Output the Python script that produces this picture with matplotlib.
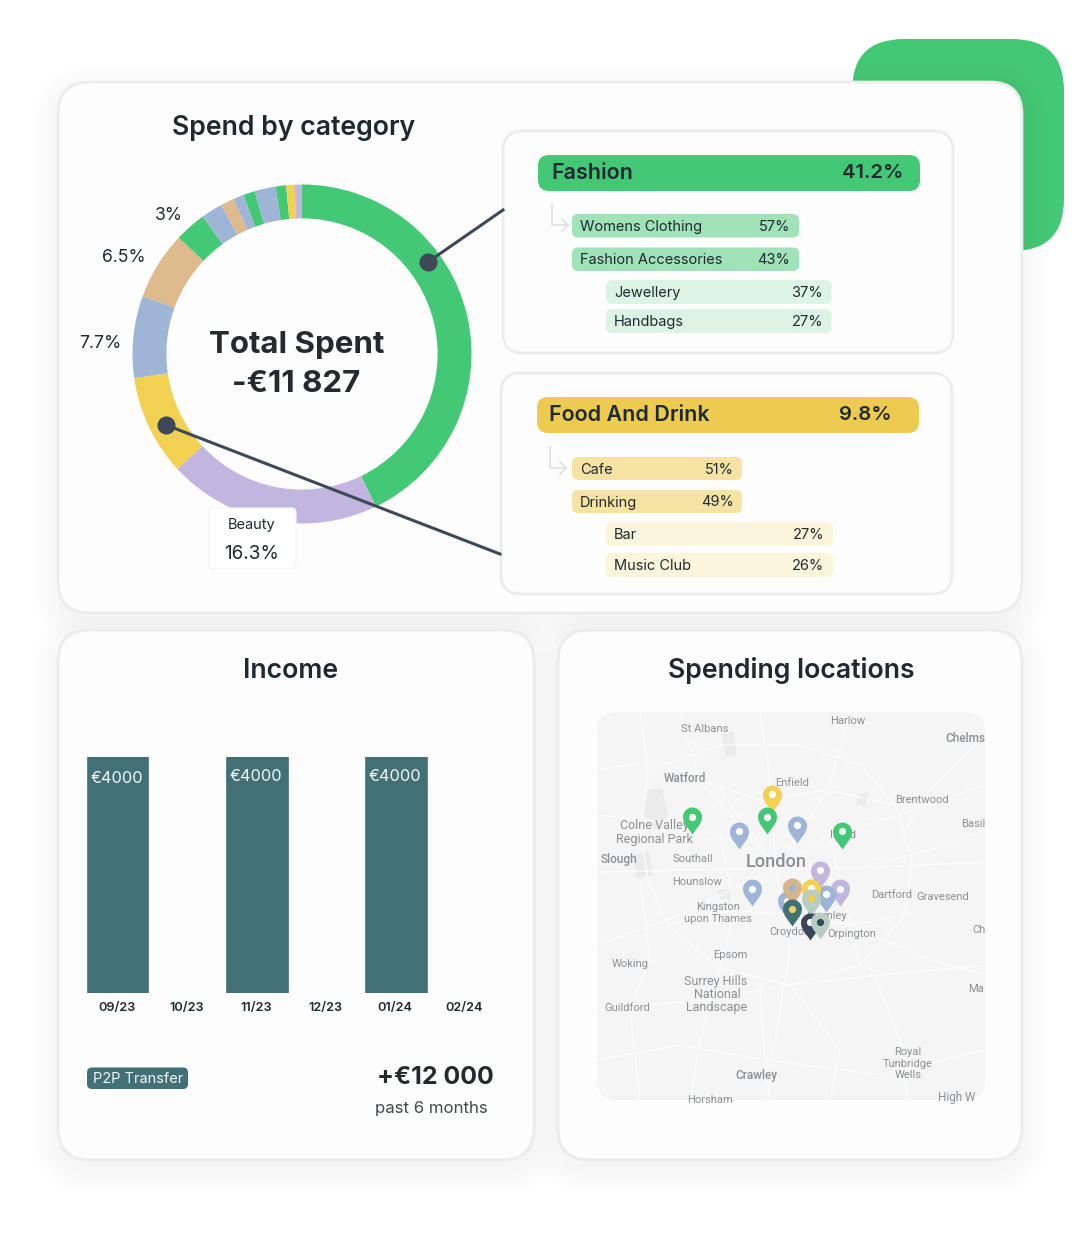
import matplotlib
matplotlib.use("Agg")
import matplotlib.pyplot as plt
from matplotlib.patches import FancyBboxPatch
from matplotlib.path import Path

# donut shares, read clockwise from 12 o'clock (as drawn)
donut_values = [42.8, 20.3, 9.6, 7.8, 6.5, 3.0, 2.05, 1.3, 1.0, 1.1, 2.0, 1.0, 0.8, 0.7]
donut_colors = ["#43c875", "#c2b5df", "#f2d052", "#9fb5d8", "#ddbb8c", "#43c875", "#9fb5d8",
                "#ddbb8c", "#9fb5d8", "#43c875", "#9fb5d8", "#43c875", "#f2d052", "#c2b5df"]

# income bars
months = ["09/23", "10/23", "11/23", "12/23", "01/24", "02/24"]
income = [4000, 0, 4000, 0, 4000, 0]

# breakdown rows: label, percent
fashion_rows = [("Womens Clothing", "57%"), ("Fashion Accessories", "43%"),
                ("Jewellery", "37%"), ("Handbags", "27%")]
food_rows = [("Cafe", "51%"), ("Drinking", "49%"), ("Bar", "27%"), ("Music Club", "26%")]

# map labels: text, x, y, size, weight
map_labels = [
    ("St Albans", 705, 729, 8, "normal"), ("Harlow", 848, 721, 8, "normal"),
    ("Chelms", 965, 738, 8.5, "medium"), ("Watford", 685, 778, 8.5, "medium"),
    ("Enfield", 792, 783, 8, "normal"), ("Brentwood", 922, 800, 8, "normal"),
    ("Colne Valley", 654, 826, 9, "normal"), ("Regional Park", 654, 839, 9, "normal"),
    ("Basil", 973, 824, 8, "normal"), ("Ilford", 843, 835, 8, "normal"),
    ("Slough", 619, 860, 8.5, "medium"), ("Southall", 693, 859, 8, "normal"),
    ("London", 776, 862, 13, "medium"), ("Hounslow", 697, 882, 8, "normal"),
    ("Dartford", 892, 895, 8, "normal"), ("Gravesend", 943, 897, 8, "normal"),
    ("Kingston", 718, 907, 8, "normal"), ("upon Thames", 718, 919, 8, "normal"),
    ("Bromley", 826, 916, 8, "normal"), ("Croydon", 790, 932, 8, "normal"),
    ("Orpington", 852, 934, 8, "normal"), ("Ch", 979, 930, 8, "normal"),
    ("Epsom", 730, 955, 8, "normal"), ("Woking", 630, 964, 8, "normal"),
    ("Surrey Hills", 716, 981, 9, "normal"), ("National", 717, 994, 9, "normal"),
    ("Landscape", 717, 1007, 9, "normal"), ("Guildford", 627, 1008, 8, "normal"),
    ("Ma", 976, 989, 8, "normal"), ("Royal", 908, 1052, 8, "normal"),
    ("Tunbridge", 908, 1064, 8, "normal"), ("Wells", 908, 1075, 8, "normal"),
    ("Crawley", 756, 1076, 8.5, "medium"), ("Horsham", 710, 1100, 8, "normal"),
    ("High W", 957, 1097, 8.5, "normal"),
]

# map pins, tip position then body and hole colour, in drawing order
pin_x = [692, 771.7, 767.3, 739.3, 797, 841.7, 820, 752, 839.7, 826.3, 786.7, 810.7, 791.7, 810.7, 791.7, 810, 820]
pin_y = [834, 811.7, 834.3, 848.7, 842.7, 848.7, 887.7, 906, 906, 911.7, 918, 905.7, 905, 915.7, 926.3, 939.7, 939]
pin_colors = ["#43c875", "#f2d052", "#43c875", "#9fb5d8", "#9fb5d8", "#43c875", "#c2b5df", "#9fb5d8", "#c2b5df",
              "#9fb5d8", "#9fb5d8", "#f2d052", "#d5b68a", "#b9cec3", "#417076", "#36475a", "#b9cec3"]
hole_colors = ["white", "white", "white", "white", "white", "#eef3f0", "white", "white", "white",
               "white", "white", "white", "#9fb5d8", "#f2d052", "#f2d052", "white", "#36475a"]

# rough road network and built up patches behind the map labels
roads = [
    [(640, 712), (648, 770), (640, 830), (648, 880), (668, 925), (720, 968), (790, 985), (860, 965), (905, 915), (912, 860), (895, 805), (860, 765), (800, 745), (720, 745), (648, 770)],
    [(597, 815), (650, 820), (720, 835), (776, 868), (830, 835), (900, 815), (985, 785)],
    [(597, 872), (680, 870), (776, 868), (860, 868), (985, 862)],
    [(597, 945), (680, 915), (776, 868), (850, 925), (930, 960), (985, 975)],
    [(680, 712), (700, 780), (776, 868), (790, 950), (775, 1040), (760, 1100)],
    [(850, 712), (828, 790), (776, 868)],
    [(597, 1010), (700, 1000), (790, 985), (880, 975), (985, 965)],
    [(985, 735), (930, 790), (905, 830)],
    [(760, 985), (765, 1060), (770, 1100)],
    [(640, 880), (650, 960), (630, 1010), (640, 1100)],
    [(870, 965), (900, 1040), (908, 1100)],
    [(597, 770), (660, 760), (720, 790), (776, 868)],
    [(760, 712), (770, 780), (776, 868)],
    [(985, 830), (930, 850), (860, 868)],
    [(720, 968), (700, 1040), (690, 1100)],
    [(790, 985), (840, 1050), (830, 1100)],
    [(597, 1060), (680, 1045), (765, 1060), (880, 1075), (985, 1050)],
    [(720, 835), (735, 910), (720, 968)],
    [(830, 835), (850, 925), (860, 965)],
    [(700, 780), (760, 800), (828, 790), (895, 805)],
    [(668, 925), (735, 910), (790, 915), (850, 925), (905, 915)],
]
blobs = [
    [(648, 790), (662, 788), (668, 815), (655, 830), (644, 815)],
    [(634, 855), (650, 852), (652, 875), (636, 878)],
    [(722, 735), (733, 732), (737, 755), (726, 757)],
    [(858, 795), (868, 793), (865, 806), (856, 804)],
    [(718, 890), (734, 888), (730, 900), (718, 898)],
]

# teardrop marker, tip at the origin so the scatter point is the pin tip
pin_path = Path([(0, 0), (-3, 5), (-9.5, 10.5), (-9.5, 17.5), (-9.5, 22.8), (-5.2, 27), (0, 27), (5.2, 27), (9.5, 22.8),
                 (9.5, 17.5), (9.5, 10.5), (3, 5), (0, 0), (0, 0)],
                [Path.MOVETO] + [Path.CURVE4] * 12 + [Path.CLOSEPOLY])

W, H = 1080, 1242
INK = "#1f2a30"
SANS = ["Inter", "DejaVu Sans"]

plt.rcParams["font.family"] = SANS
fig = plt.figure(figsize=(W / 100, H / 100), dpi=100)

# full figure axes counted in pixels, y going down
ax = fig.add_axes([0, 0, 1, 1])
ax.set_xlim(0, W)
ax.set_ylim(H, 0)
ax.axis("off")


def rbox(x0, y0, x1, y1, r, color, edge="none", lw=0, z=1, alpha=None):
    box = FancyBboxPatch((x0 + r, y0 + r), x1 - x0 - 2 * r, y1 - y0 - 2 * r, boxstyle=f"round,pad={r},rounding_size={r}",
                         facecolor=color, edgecolor=edge, linewidth=lw, zorder=z, alpha=alpha)
    ax.add_patch(box)
    return box


def card(x0, y0, x1, y1, r, z=2, shadow=True):
    # soft shadow built from stacked see through boxes
    if shadow:
        for grow in range(26, 0, -3):
            rbox(x0 - grow, y0 - grow + 8, x1 + grow, y1 + grow + 8, r + grow, "#5a6a60", z=z, alpha=0.003)
    rbox(x0, y0, x1, y1, r, "#fdfdfd", edge="#ebecec", lw=2, z=z + 0.1)


def breakdown(title, pct, color, head_box, head_text_x, pct_right, rows, boxes, row_colors, pct_rights):
    x0, y0, x1, y1 = head_box
    rbox(x0, y0, x1, y1, 11, color, z=5)
    cy = (y0 + y1) / 2
    ax.text(head_text_x, cy, title, fontsize=15.5, fontweight="semibold", color=INK, va="center", zorder=6)
    ax.text(pct_right + 1.5, cy, pct, fontsize=14.6, fontweight="semibold", color=INK, va="center", ha="right", zorder=6)
    for (label, value), (bx0, by0, bx1, by1), c, right in zip(rows, boxes, row_colors, pct_rights):
        rbox(bx0, by0, bx1, by1, 6, c, z=5)
        ym = (by0 + by1) / 2 + 1
        ax.text(bx0 + 8, ym, label, fontsize=10.5, color=INK, va="center", zorder=6)
        ax.text(right, ym, value, fontsize=10.5, color=INK, va="center", ha="right", zorder=6)


# green block peeking out behind the main card
rbox(852, 39, 1064, 251, 52, "#43c875", z=0.5)

card(58, 82, 1022, 613, 32)
card(58, 630, 534, 1160, 32)
card(558, 630, 1022, 1160, 32)

ax.text(294, 128, "Spend by category", fontsize=19.2, fontweight="semibold", color=INK, ha="center", va="center", zorder=6)
ax.text(291, 671, "Income", fontsize=19.2, fontweight="semibold", color=INK, ha="center", va="center", zorder=6)
ax.text(791, 671, "Spending locations", fontsize=19.2, fontweight="semibold", color=INK, ha="center", va="center", zorder=6)

# sub cards on the right
card(503, 131, 953, 353, 20, z=3, shadow=False)
card(501, 373, 952, 594, 20, z=3, shadow=False)

breakdown("Fashion", "41.2%", "#43c875", (538, 155, 920, 191), 551, 902, fashion_rows,
          [(572, 214, 799, 237.5), (572, 247.5, 799, 271), (606, 280, 831.5, 304), (606, 309, 831.5, 333)],
          ["#a0e3b8", "#a0e3b8", "#ddf4e4", "#ddf4e4"], [790, 790, 823, 823])
breakdown("Food And Drink", "9.8%", "#edcb51", (537, 397, 919, 433), 549, 890, food_rows,
          [(572, 457, 742, 480), (572, 490, 742, 513), (606, 522, 833, 546), (606, 553, 833, 577)],
          ["#f6e3a3", "#f6e3a3", "#fbf5dc", "#fbf5dc"], [734, 734, 824, 824])

# little elbow arrows
for ax0, ay0, ay1 in [(552, 204, 225), (550, 447, 468)]:
    ax.plot([ax0, ax0, ax0 + 16], [ay0, ay1, ay1], color="#dfe3e4", lw=1.3, zorder=6)
    ax.plot([ax0 + 10, ax0 + 16, ax0 + 10], [ay1 - 6, ay1, ay1 + 6], color="#dfe3e4", lw=1.3, zorder=6)

# donut, axes box is the circle itself
cx, cy, R = 302, 354, 169.5
donut_ax = fig.add_axes([(cx - R) / W, 1 - (cy + R) / H, 2 * R / W, 2 * R / H], zorder=2)
donut_ax.pie(donut_values, colors=donut_colors, startangle=90, counterclock=False, radius=1,
             wedgeprops={"width": 0.2, "linewidth": 0})
donut_ax.set_xlim(-1, 1)
donut_ax.set_ylim(-1, 1)

# income bars
bar_ax = fig.add_axes([83.2 / W, 1 - 993 / H, 417.6 / W, 236 / H], zorder=2)
bar_ax.patch.set_alpha(0)
bars = bar_ax.bar(range(len(months)), income, width=0.875, color="#417076", edgecolor="#417076", linewidth=1.2, joinstyle="round")
for bar, val in zip(bars, income):
    bar.set_visible(val > 0)
bar_ax.set_xlim(-0.5, 5.5)
bar_ax.set_ylim(0, 4000)
bar_ax.set_yticks([])
bar_ax.set_xticks([i - 0.02 for i in range(len(months))], months, fontsize=9.2, fontweight="semibold", color=INK)
bar_ax.tick_params(axis="x", length=0, pad=6.5)
for side in bar_ax.spines.values():
    side.set_visible(False)
for i, val in enumerate(income):
    if val > 0:
        # first label sits a touch lower in the original
        bar_ax.annotate(f"€{val}", (i, val), xytext=(-1, -15.2 if i == 0 else -13.9), textcoords="offset points",
                        ha="center", va="center", fontsize=11.8, color="#f4f7f7")

# overlay axes for everything that sits on top of the donut
top = fig.add_axes([0, 0, 1, 1], zorder=3)
top.set_xlim(0, W)
top.set_ylim(H, 0)
top.axis("off")

# leader lines
top.plot([428, 503], [262, 210], color="#3e4958", lw=2.2)
top.plot([166, 500], [425, 554], color="#3e4958", lw=2.2)
top.scatter([428, 166], [262, 425], s=170, color="#3e4958", linewidths=0, zorder=4)

# donut texts
top.text(297, 345, "Total Spent", fontsize=22.5, fontweight="bold", color="#262a2d", ha="center", va="center")
top.text(296, 384, "-€11 827", fontsize=22.5, fontweight="bold", color="#262a2d", ha="center", va="center")
for txt, tx, ty in [("3%", 169, 216), ("6.5%", 124, 258), ("7.7%", 100, 343)]:
    top.text(tx, ty, txt, fontsize=12.6, color=INK, ha="center", va="center")

# beauty tooltip, drawn through the top axes
tip = FancyBboxPatch((213, 512), 79, 53, boxstyle="round,pad=4,rounding_size=4", facecolor="white", edgecolor="#f3f3f3", linewidth=0.8, zorder=5)
top.add_patch(tip)
top.text(252, 525.5, "Beauty", fontsize=10.5, color=INK, ha="center", va="center", zorder=6)
top.text(252, 554, "16.3%", fontsize=13.6, color=INK, ha="center", va="center", zorder=6)

# income footer
rbox(87, 1067.5, 188, 1089, 5, "#417076", z=5)
ax.text(93, 1079, "P2P Transfer", fontsize=10.5, color="#f2f6f6", va="center", zorder=6)
ax.text(377, 1078, "+€12 000", fontsize=18, fontweight="bold", color="#262a2d", va="center", zorder=6)
ax.text(375, 1108, "past 6 months", fontsize=12.1, color="#44494c", va="center", zorder=6)

# map
map_box = rbox(597, 712, 985, 1100, 20, "#f5f5f5", z=4)
for blob in blobs:
    poly = ax.fill([p[0] for p in blob], [p[1] for p in blob], color="#ebebeb", zorder=4.1, linewidth=0)[0]
    poly.set_clip_path(map_box)
for road in roads:
    line = ax.plot([p[0] for p in road], [p[1] for p in road], color="#fbfbfb", lw=1.1, zorder=4.2)[0]
    line.set_clip_path(map_box)
for txt, tx, ty, size, weight in map_labels:
    label = ax.text(tx, ty, txt, fontsize=size, fontweight=weight, family=["Roboto", "DejaVu Sans"], color="#8c8f91", ha="center", va="center", zorder=4.3)
    label.set_clip_path(map_box)

for x, y, body, hole in zip(pin_x, pin_y, pin_colors, hole_colors):
    ax.scatter([x], [y], marker=pin_path, s=1512, color=body, linewidths=0, zorder=4.5)
    ax.scatter([x], [y - 17.5], s=27, color=hole, linewidths=0, zorder=4.5)

fig.savefig("out.png", dpi=100, facecolor="white")
